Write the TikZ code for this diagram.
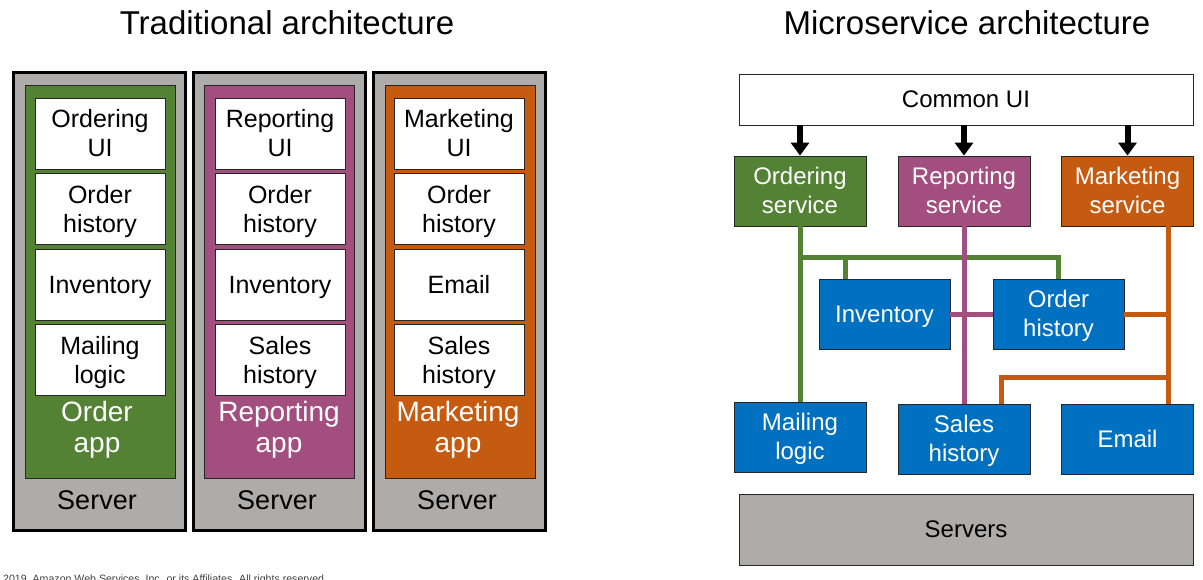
\documentclass[tikz,border=0pt]{standalone}
\usepackage{fontspec}
\setmainfont{Liberation Sans}
\usetikzlibrary{arrows.meta}
\definecolor{appgreen}{HTML}{548235}
\definecolor{appmagenta}{HTML}{A24E7E}
\definecolor{apporange}{HTML}{C55A11}
\definecolor{svcblue}{HTML}{0070C0}
\definecolor{servergray}{HTML}{AEABAB}
% invisible strut giving every text line the same ascent/descent,
% so box texts sit optically centred
\newcommand\pptstrut{\rule[-0.205em]{0pt}{1.11em}}
% centred two-line label: strut above the first line and below the last
\newcommand\twolines[2]{\vbox{\halign{\hfil##\hfil\cr
  \rule{0pt}{0.905em}#1\cr
  #2\rule[-0.205em]{0pt}{0.205em}\cr}}}
\begin{document}
\begin{tikzpicture}[x=1pt,y=-1pt,
  boxtext/.style={execute at begin node=\pptstrut},
  title/.style={anchor=base, font=\fontsize{33}{36}\selectfont},
  server/.style={draw=black, line width=3pt, fill=servergray, minimum width=172pt, minimum height=458pt, inner sep=0pt},
  appbox/.style={draw=black!85, line width=1pt, minimum width=150pt, minimum height=393pt, inner sep=0pt},
  part/.style={boxtext, draw=black!85, fill=white, line width=0.8pt, minimum width=130pt, minimum height=71pt, inner sep=0pt, font=\fontsize{25}{29}\selectfont},
  applabel/.style={boxtext, text=white, inner sep=0pt, font=\fontsize{28}{31}\selectfont},
  srvlabel/.style={boxtext, inner sep=0pt, font=\fontsize{27}{30}\selectfont},
  svc/.style={boxtext, draw=black!85, line width=0.8pt, minimum width=132pt, minimum height=70pt, inner sep=0pt, text=white, font=\fontsize{24}{29}\selectfont},
  wide/.style={boxtext, draw=black!85, line width=0.8pt, minimum width=454pt, inner sep=0pt, font=\fontsize{24}{29}\selectfont},
  link/.style={line width=5pt},
  down/.style={line width=6pt, -{Triangle[width=18pt,length=13pt]}}
]
\useasboundingbox (0,0) rectangle (1203,579);

% ---------------- traditional (monolithic) side ----------------
\node[title] (ttl) at (287,34) {Traditional architecture};

% column 1: order app
\node[server] (s1) at (99,301) {};
\node[appbox, fill=appgreen] (a1) at (100,281.5) {};
\node[part] (a1p1) at (100,133.5) {\twolines{Ordering}{UI}};
\node[part] (a1p2) at (100,209) {\twolines{Order}{history}};
\node[part] (a1p3) at (100,284.5) {Inventory};
\node[part] (a1p4) at (100,360) {\twolines{Mailing}{logic}};
\node[applabel] (a1l) at (97,427.5) {\twolines{Order}{app}};
\node[srvlabel] (s1l) at (97,500) {Server};

% column 2: reporting app
\node[server] (s2) at (279.5,301) {};
\node[appbox, fill=appmagenta] (a2) at (279.5,281.5) {};
\node[part] (a2p1) at (280,133.5) {\twolines{Reporting}{UI}};
\node[part] (a2p2) at (280,209) {\twolines{Order}{history}};
\node[part] (a2p3) at (280,284.5) {Inventory};
\node[part] (a2p4) at (280,360) {\twolines{Sales}{history}};
\node[applabel] (a2l) at (279,427.5) {\twolines{Reporting}{app}};
\node[srvlabel] (s2l) at (277,500) {Server};

% column 3: marketing app
\node[server] (s3) at (459.5,301) {};
\node[appbox, fill=apporange] (a3) at (460,281.5) {};
\node[part] (a3p1) at (459,133.5) {\twolines{Marketing}{UI}};
\node[part] (a3p2) at (459,209) {\twolines{Order}{history}};
\node[part] (a3p3) at (459,284.5) {Email};
\node[part] (a3p4) at (459,360) {\twolines{Sales}{history}};
\node[applabel] (a3l) at (458,427.5) {\twolines{Marketing}{app}};
\node[srvlabel] (s3l) at (457,500) {Server};

% ---------------- microservice side ----------------
\node[title] (mtl) at (967,34) {Microservice architecture};

\node[wide, fill=white, minimum height=51pt] (ui) at (966,99.5) {Common UI};

\node[svc, fill=appgreen]   (ord) at (800,191)    {\twolines{Ordering}{service}};
\node[svc, fill=appmagenta] (rep) at (964,191)    {\twolines{Reporting}{service}};
\node[svc, fill=apporange]  (mkt) at (1127.5,191) {\twolines{Marketing}{service}};

\node[svc, fill=svcblue, minimum width=131pt] (inv) at (884.5,314)  {Inventory};
\node[svc, fill=svcblue, minimum width=131pt] (ohs) at (1058.5,314) {\twolines{Order}{history}};

\node[svc, fill=svcblue] (mail)  at (800,437)    {\twolines{Mailing}{logic}};
\node[svc, fill=svcblue] (sales) at (964,439)    {\twolines{Sales}{history}};
\node[svc, fill=svcblue] (email) at (1127.5,439) {Email};

\node[wide, fill=servergray, minimum height=71pt] (srv) at (966,529.5) {Servers};

% UI calls into each service
\draw[down] (ui.south -| ord) -- (ord.north);
\draw[down] (ui.south -| rep) -- (rep.north);
\draw[down] (ui.south -| mkt) -- (mkt.north);

% ordering service dependencies
\coordinate (gbus) at (800,257);
\coordinate (ginv) at (845,257);
\draw[link, appgreen] (ord.south) -- (mail.north);
\draw[link, appgreen] (gbus) -| (ohs.north);
\draw[link, appgreen] (ginv) -- (ginv |- inv.north);

% reporting service dependencies
\draw[link, appmagenta] (rep.south) -- (sales.north);
\draw[link, appmagenta] (inv.east) -- (ohs.west);

% marketing service dependencies
\coordinate (otop) at ([xshift=40.5pt]mkt.south);
\coordinate (obot) at ([xshift=40.5pt]email.north);
\coordinate (obus) at (1168,377);
\coordinate (osal) at ([xshift=37pt]sales.north);
\draw[link, apporange] (otop) -- (obot);
\draw[link, apporange] (ohs.east) -- (ohs.east -| otop);
\draw[link, apporange] (obus) -| (osal);

% footer (runs off the lower page edge)
\node[anchor=base west, inner sep=0pt, text=black!75, font=\fontsize{10.6}{12}\selectfont] (copy) at (3,582.5) {2019, Amazon Web Services, Inc. or its Affiliates. All rights reserved.};
\end{tikzpicture}
\end{document}
